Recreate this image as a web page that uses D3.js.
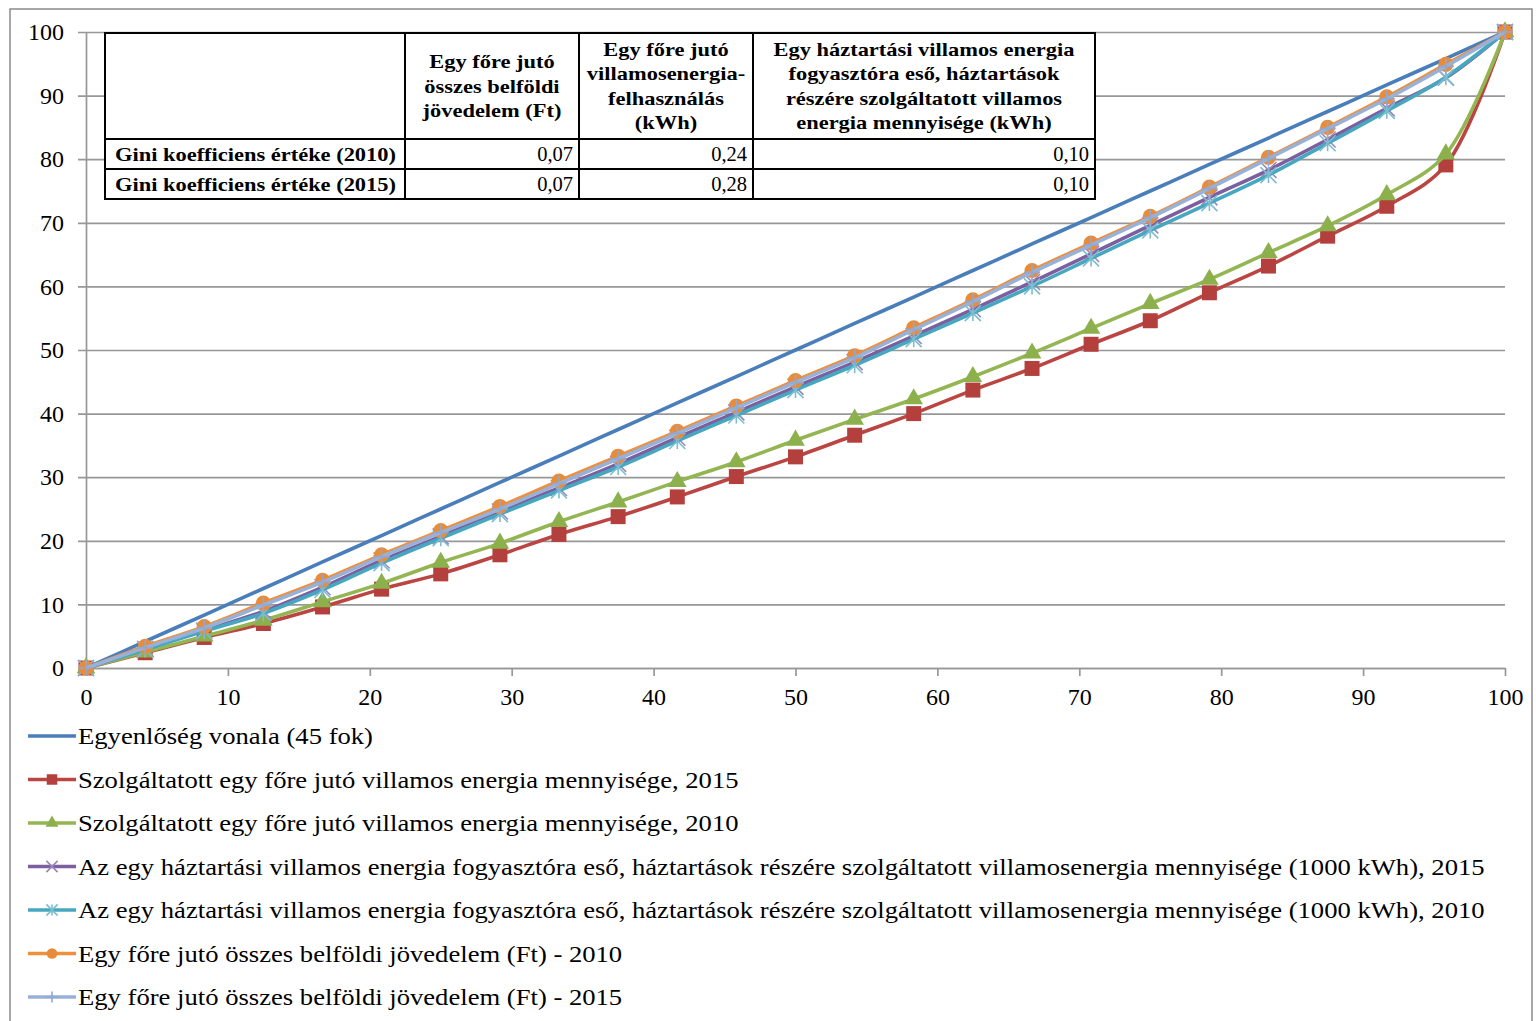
<!DOCTYPE html>
<html><head><meta charset="utf-8">
<script src="https://cdn.jsdelivr.net/npm/d3@7/dist/d3.min.js"></script>
<style>html,body{margin:0;padding:0;background:#fff;overflow:hidden}svg{display:block}</style>
</head><body>
<script>
// ---------- DATA ----------
const xShare = [0, 4.17, 8.33, 12.5, 16.67, 20.83, 25, 29.17, 33.33, 37.5, 41.67, 45.83, 50, 54.17, 58.33, 62.5, 66.67, 70.83, 75, 79.17, 83.33, 87.5, 91.67, 95.83, 100];
const equality = [0, 4.17, 8.33, 12.5, 16.67, 20.83, 25, 29.17, 33.33, 37.5, 41.67, 45.83, 50, 54.17, 58.33, 62.5, 66.67, 70.83, 75, 79.17, 83.33, 87.5, 91.67, 95.83, 100];
const elecPerCap2015 = [0, 2.4, 4.8, 7.0, 9.6, 12.4, 14.8, 17.8, 21.0, 23.8, 26.9, 30.1, 33.2, 36.6, 40.0, 43.7, 47.1, 50.9, 54.6, 59.0, 63.2, 67.9, 72.6, 79.1, 100];
const elecPerCap2010 = [0, 2.5, 5.0, 7.5, 10.4, 13.3, 16.6, 19.6, 23.0, 26.1, 29.3, 32.4, 35.8, 39.1, 42.3, 45.8, 49.5, 53.4, 57.3, 61.1, 65.3, 69.5, 74.4, 80.8, 100];
const household2015 = [0, 3.0, 5.9, 8.9, 12.7, 16.9, 20.7, 24.6, 28.3, 32.1, 36.2, 40.2, 44.2, 48.1, 52.2, 56.4, 60.7, 65.1, 69.6, 74.0, 78.3, 83.1, 88.0, 92.8, 100];
const household2010 = [0, 2.9, 5.8, 8.6, 12.3, 16.5, 20.4, 24.2, 27.9, 31.6, 35.7, 39.7, 43.7, 47.6, 51.7, 55.8, 60.0, 64.4, 68.8, 73.1, 77.5, 82.5, 87.6, 92.9, 100];
const income2010 = [0, 3.4, 6.5, 10.2, 13.8, 17.8, 21.6, 25.4, 29.4, 33.3, 37.2, 41.2, 45.2, 49.1, 53.5, 57.9, 62.5, 66.8, 71.0, 75.6, 80.3, 85.0, 89.8, 94.9, 100];
const income2015 = [0, 3.2, 6.3, 9.9, 13.5, 17.5, 21.3, 25.0, 29.0, 32.9, 36.9, 40.9, 44.9, 48.8, 53.2, 57.6, 62.2, 66.5, 70.8, 75.4, 80.1, 84.8, 89.5, 94.6, 100];

const seriesNames = [
  "Egyenlőség vonala (45 fok)",
  "Szolgáltatott egy főre jutó villamos energia mennyisége, 2015",
  "Szolgáltatott egy főre jutó villamos energia mennyisége, 2010",
  "Az egy háztartási villamos energia fogyasztóra eső, háztartások részére szolgáltatott villamosenergia mennyisége (1000 kWh), 2015",
  "Az egy háztartási villamos energia fogyasztóra eső, háztartások részére szolgáltatott villamosenergia mennyisége (1000 kWh), 2010",
  "Egy főre jutó összes belföldi jövedelem (Ft) - 2010",
  "Egy főre jutó összes belföldi jövedelem (Ft) - 2015"
];
const seriesValues = [equality, elecPerCap2015, elecPerCap2010, household2015, household2010, income2010, income2015];

const xTicks = [0, 10, 20, 30, 40, 50, 60, 70, 80, 90, 100];
const yTicks = [0, 10, 20, 30, 40, 50, 60, 70, 80, 90, 100];

const tableHeaders = [
  [],
  ["Egy főre jutó", "összes belföldi", "jövedelem (Ft)"],
  ["Egy főre jutó", "villamosenergia-", "felhasználás", "(kWh)"],
  ["Egy háztartási villamos energia", "fogyasztóra eső, háztartások", "részére szolgáltatott villamos", "energia mennyisége (kWh)"]
];
const tableRowLabels = ["Gini koefficiens értéke (2010)", "Gini koefficiens értéke (2015)"];
const gini2010 = ["0,07", "0,24", "0,10"];
const gini2015 = ["0,07", "0,28", "0,10"];

// ---------- STYLE ----------
const colors = ["#4a7ebb", "#bb4542", "#93b552", "#7b5f9f", "#47a7c0", "#ee8f3f", "#98b1d8"];
const markerColors = ["#4a7ebb", "#b3403d", "#8bb04c", "#9a86bb", "#7dbdd0", "#e88c3c", "#8ea9d2"];
const markers = ["none", "square", "triangle", "x", "star", "circle", "plus"];
const FONT = "'Liberation Serif','Times New Roman',serif";

const W = 1536, H = 1021;
const svg = d3.select("body").append("svg").attr("width", W).attr("height", H);
svg.append("rect").attr("width", W).attr("height", H).attr("fill", "#fff");
svg.append("rect").attr("x", 10).attr("y", 9).attr("width", 1522).attr("height", 1040)
  .attr("fill", "none").attr("stroke", "#8a8a8a").attr("stroke-width", 1.5);

const x = d3.scaleLinear().domain([0, 100]).range([86, 1505]);
const y = d3.scaleLinear().domain([0, 100]).range([668, 32]);
const GRID = "#979797";

// y axis + gridlines
const yAxisG = svg.append("g").attr("transform", `translate(${x(0)},0)`)
  .call(d3.axisLeft(y).tickValues(yTicks).tickSize(-(x(100) - x(0))).tickSizeOuter(0).tickPadding(22).tickFormat(d3.format("d")));
yAxisG.select(".domain").attr("stroke", GRID).attr("stroke-width", 1.7);
yAxisG.selectAll(".tick line").attr("x1", -8).attr("stroke", GRID).attr("stroke-width", 1.7);
yAxisG.selectAll(".tick text").attr("font-family", FONT).attr("font-size", 24).attr("fill", "#000");

// x axis
const xAxisG = svg.append("g").attr("transform", `translate(0,${y(0)})`)
  .call(d3.axisBottom(x).tickValues(xTicks).tickSize(8).tickSizeOuter(0).tickPadding(12).tickFormat(d3.format("d")));
xAxisG.select(".domain").attr("stroke", GRID).attr("stroke-width", 1.7);
xAxisG.selectAll(".tick line").attr("stroke", GRID).attr("stroke-width", 1.7);
xAxisG.selectAll(".tick text").attr("font-family", FONT).attr("font-size", 24).attr("fill", "#000");

// marker drawing
function drawMarker(g, type, color, k) {
  const s = 8 * k;
  if (type === "square") g.append("path").attr("d", d3.symbol(d3.symbolSquare, 225 * k * k)()).attr("fill", color);
  else if (type === "triangle") g.append("path").attr("d", d3.symbol(d3.symbolTriangle, 150 * k * k)()).attr("fill", color);
  else if (type === "circle") g.append("path").attr("d", d3.symbol(d3.symbolCircle, 180 * k * k)()).attr("fill", color);
  else if (type === "x") g.append("path").attr("d", `M${-s},${-s}L${s},${s}M${-s},${s}L${s},${-s}`).attr("stroke", color).attr("stroke-width", 1.6).attr("fill", "none");
  else if (type === "star") g.append("path").attr("d", `M${-s},${-s}L${s},${s}M${-s},${s}L${s},${-s}M0,${-s}L0,${s}`).attr("stroke", color).attr("stroke-width", 1.6).attr("fill", "none");
  else if (type === "plus") g.append("path").attr("d", `M${-s},0L${s},0M0,${-s}L0,${s}`).attr("stroke", color).attr("stroke-width", 1.6).attr("fill", "none");
}

const line = d3.line().x(d => x(d[0])).y(d => y(d[1])).curve(d3.curveCatmullRom.alpha(0.5));
const plot = svg.append("g");
seriesValues.forEach((vals, i) => {
  const pts = vals.map((v, j) => [xShare[j], v]);
  const g = plot.append("g");
  g.append("path").datum(pts).attr("d", line).attr("fill", "none")
    .attr("stroke", colors[i]).attr("stroke-width", 3.6).attr("stroke-linejoin", "round");
  if (markers[i] !== "none") {
    g.selectAll("g.m").data(pts).join("g").attr("class", "m")
      .attr("transform", d => `translate(${x(d[0])},${y(d[1])})`)
      .each(function () { drawMarker(d3.select(this), markers[i], markerColors[i], 1); });
  }
});

// stretch helper (reference text is horizontally widened)
function stretch(sel, factor) {
  sel.each(function () {
    const w = this.getComputedTextLength();
    d3.select(this).attr("textLength", w * factor).attr("lengthAdjust", "spacingAndGlyphs");
  });
}

// ---------- TABLE ----------
const colX = [105, 405, 579, 753, 1095];
const rowY = [33, 139, 169, 199];
const tbl = svg.append("g");
tbl.append("rect").attr("x", colX[0]).attr("y", rowY[0]).attr("width", colX[4] - colX[0]).attr("height", rowY[3] - rowY[0])
  .attr("fill", "#fff").attr("stroke", "#000").attr("stroke-width", 2);
colX.slice(1, 4).forEach(cx => tbl.append("line").attr("x1", cx).attr("x2", cx).attr("y1", rowY[0]).attr("y2", rowY[3]).attr("stroke", "#000").attr("stroke-width", 2));
rowY.slice(1, 3).forEach(ry => tbl.append("line").attr("x1", colX[0]).attr("x2", colX[4]).attr("y1", ry).attr("y2", ry).attr("stroke", "#000").attr("stroke-width", 2));

const headerTexts = [];
tableHeaders.forEach((lines, c) => {
  if (!lines.length) return;
  const cx = (colX[c] + colX[c + 1]) / 2;
  const lh = 24.6;
  const cy = (rowY[0] + rowY[1]) / 2;
  lines.forEach((t, k) => {
    const ty = cy + (k - (lines.length - 1) / 2) * lh + 6.5;
    headerTexts.push(tbl.append("text").attr("x", cx).attr("y", ty).attr("text-anchor", "middle")
      .attr("font-family", FONT).attr("font-weight", "bold").attr("font-size", 19.5).text(t).node());
  });
});
const rowLabelTexts = tableRowLabels.map((t, r) =>
  tbl.append("text").attr("x", 115).attr("y", rowY[r + 1] + 22).attr("font-family", FONT)
    .attr("font-weight", "bold").attr("font-size", 19.5).text(t).node());
[gini2010, gini2015].forEach((vals, r) => {
  vals.forEach((v, c) => {
    tbl.append("text").attr("x", colX[c + 2] - 6).attr("y", rowY[r + 1] + 22).attr("text-anchor", "end")
      .attr("font-family", FONT).attr("font-size", 20.5).text(v);
  });
});
const tFactor = 281 / rowLabelTexts[0].getComputedTextLength();
stretch(d3.selectAll(headerTexts.concat(rowLabelTexts)), tFactor);

// ---------- LEGEND ----------
const leg = svg.append("g");
const legTexts = [];
seriesNames.forEach((name, i) => {
  const ly = 736 + i * 43.5;
  const g = leg.append("g");
  g.append("line").attr("x1", 28).attr("x2", 76).attr("y1", ly).attr("y2", ly).attr("stroke", colors[i]).attr("stroke-width", 3.6);
  const mg = g.append("g").attr("transform", `translate(52,${ly})`);
  drawMarker(mg, markers[i], markerColors[i], 0.7);
  legTexts.push(g.append("text").attr("x", 78).attr("y", ly + 8).attr("font-family", FONT).attr("font-size", 23.5).attr("fill", "#000").text(name).node());
});
const lFactor = 295 / legTexts[0].getComputedTextLength();
stretch(d3.selectAll(legTexts), lFactor);
</script>
</body></html>
